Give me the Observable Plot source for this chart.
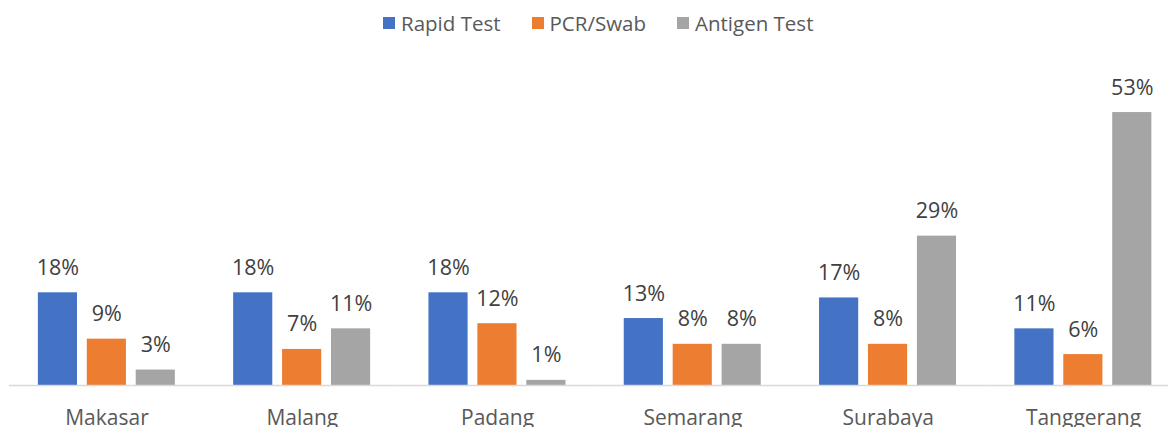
<!DOCTYPE html>
<html>
<head>
<meta charset="utf-8">
<script src="https://cdn.jsdelivr.net/npm/d3@7"></script>
<script src="https://cdn.jsdelivr.net/npm/@observablehq/plot@0.6"></script>
<style>
  html, body { margin: 0; padding: 0; background: #fff; overflow: hidden; }
  body { width: 1168px; height: 427px; font-family: "Open Sans", sans-serif; }
  #legend { height: 45px; display: flex; align-items: center; padding-left: 383px; box-sizing: border-box; font-size: 20.5px; color: #595959; }
  .item { display: flex; align-items: center; margin-right: 31px; }
  .sw { width: 12px; height: 12px; margin-right: 6px; }
  #chart svg { display: block; overflow: visible; }
</style>
</head>
<body>
<div id="legend"></div>
<div id="chart"></div>
<script>
const cities = ["Makasar", "Malang", "Padang", "Semarang", "Surabaya", "Tanggerang"];
const series = ["Rapid Test", "PCR/Swab", "Antigen Test"];
const colors = ["#4472C4", "#ED7D31", "#A5A5A5"];
const rapidTest = [18, 18, 18, 13, 17, 11];
const pcrSwab = [9, 7, 12, 8, 8, 6];
const antigenTest = [3, 11, 1, 8, 29, 53];

const seriesValues = [rapidTest, pcrSwab, antigenTest];
const data = [];
cities.forEach((c, i) => series.forEach((s, j) => data.push({city: c, series: s, value: seriesValues[j][i]})));

const legend = document.getElementById("legend");
series.forEach((s, j) => {
  const it = document.createElement("div");
  it.className = "item";
  it.innerHTML = `<span class="sw" style="background:${colors[j]}"></span><span>${s}</span>`;
  legend.appendChild(it);
});

const chart = Plot.plot({
  width: 1168,
  height: 382,
  marginTop: 0,
  marginBottom: 42,
  marginLeft: 9,
  marginRight: 0,
  style: {fontFamily: "Open Sans, sans-serif", background: "transparent"},
  fx: {domain: cities, range: [8.85, 1180.65], padding: 0, round: false, axis: null},
  x: {domain: series, range: [38, 175], paddingInner: 0.2, paddingOuter: 0, round: false, axis: null},
  y: {domain: [0, 60], range: [340, 31], axis: null},
  color: {domain: series, range: colors},
  marks: [
    Plot.barY(data, {fx: "city", x: "series", y: "value", fill: "series"}),
    Plot.ruleY([0], {stroke: "#D9D9D9", strokeWidth: 1.5}),
    Plot.text(data, {fx: "city", x: "series", y: "value", text: d => d.value + "%", lineAnchor: "bottom", dy: -18, fontSize: 21.5, fill: "#404040"}),
    Plot.axisFx({anchor: "bottom", tickSize: 0, tickPadding: 25, fontSize: 21, fill: "#595959", label: null})
  ]
});
document.getElementById("chart").appendChild(chart);
</script>
</body>
</html>
